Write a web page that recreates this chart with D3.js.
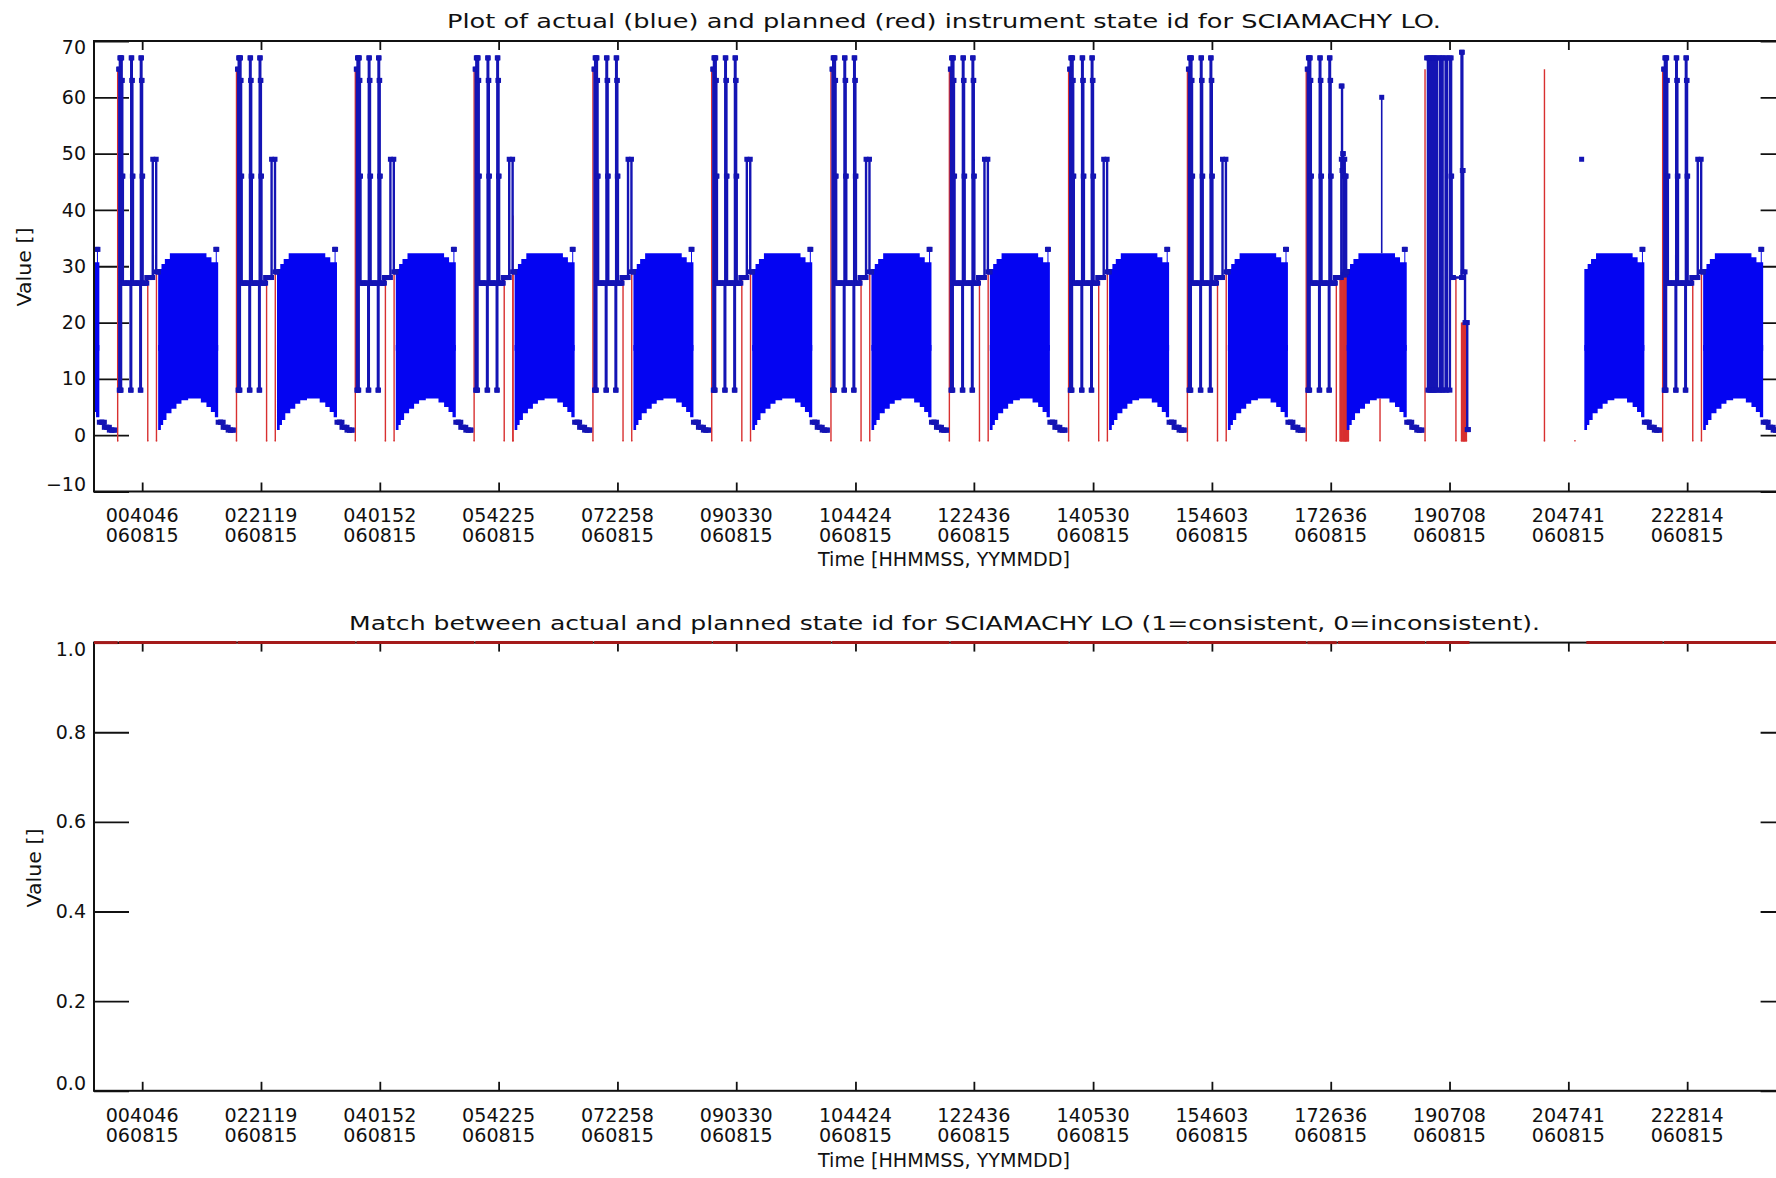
<!DOCTYPE html>
<html><head><meta charset="utf-8">
<script src="https://cdn.jsdelivr.net/npm/d3@7/dist/d3.min.js"></script>
<style>
body{margin:0;background:#fff}
text{font-family:"DejaVu Sans",sans-serif;fill:#111}
</style>
</head><body>
<svg id="c" width="1776" height="1178"></svg>
<script>
// ================= DATA =================
const tickTimeLabels = ["004046","022119","040152","054225","072258","090330","104424","122436","140530","154603","172636","190708","204741","222814"];
const tickDateLabels = ["060815","060815","060815","060815","060815","060815","060815","060815","060815","060815","060815","060815","060815","060815"];
const yTicksTop = [-10, 0, 10, 20, 30, 40, 50, 60, 70];
const yTicksBot = [0.0, 0.2, 0.4, 0.6, 0.8, 1.0];

// orbit reference times (seconds of day 060815)
const fillOrbitStarts    = [-3587, 2446, 8479, 14512, 20545, 26578, 32610, 38664, 44676, 50730, 56763, 62796, 74861, 80894];
const clusterOrbitStarts = [2446, 8479, 14512, 20545, 26578, 32610, 38664, 44676, 50730, 56763, 62796, 80894];

// eclipse / limb cluster of actual state ids (seconds relative to orbit reference, state id)
const clusterRelT = [-1193,-1163,-1132,-1102,-1071,-1041,-1010,-980,-900,-820,-740,-660,-589,-558,-528,-498,-467,-390,-310,-230,-150,-96,-66,-36,-5,25,100,170,234,300,380,460,538,711,812];
const clusterVal  = [65, 8, 67, 8, 67, 63, 46, 27, 27, 27, 27, 27, 8, 67, 63, 46, 27, 27, 27, 27, 27, 8, 67, 63, 46, 27, 27, 27, 28, 28, 28, 28, 49, 29, 29];

// limb/nadir alternation envelope (upper = limb ids, lower = nadir ids)
const fillTopRelT = [812, 980, 1152, 1406, 3264, 3518, 3737, 3787, 3859];
const fillTopVal  = [29.5, 30.4, 31.3, 32.3, 31.6, 30.7, 33, 30.7, 30.7];
const fillBotRelT = [812, 949, 1066, 1234, 1488, 1741, 1995, 2335, 2980, 3264, 3488, 3691, 3859];
const fillBotVal  = [0.9, 1.8, 2.7, 3.9, 4.7, 5.6, 6.2, 6.5, 5.8, 5.0, 4.1, 3.2, 3.2];
const stairRelT = [3859, 3985, 4112, 4240, 4366, 4490, 4620];
const stairVal  = [2.3, 2.3, 1.4, 1.4, 0.9, 0.9, 0.9];

// planned (red) state id drops to -1 at these relative times, rising back to given id
const redDipRelT = [-1244, 284, 726];
const redDipTop  = [65, 28, 29];

// special orbit 172636: extra actual states
const extraA_T = [63329, 63370, 63405, 63436, 63471, 63507, 63542, 63578, 63608];
const extraA_V = [62, 47, 50, 28.5, 46, 28.5, 46, 29, 29];
// special orbit 190708: dense actual states
const blockB_T = [67665, 67731, 67797, 67863, 67929, 67995, 68061, 68127, 68193, 68345, 68411, 68477, 68629, 68695, 68847, 68909, 68935, 69016, 69437, 69478, 69518, 69615, 69727, 69777];
const blockB_V = [67, 8, 67, 8, 67, 8, 67, 8, 67, 8, 67, 8, 67, 8, 67, 46, 28, 28, 68, 47, 29, 20, 1, 1];
// single actual spikes [time, from id, to id]
const blueSpikes = [[65385, 32.3, 60]];
// isolated actual points
const blueDots = [[75536, 49]];
// extra planned verticals [time, from, to]
const redExtra = [
  [21271, -1, 39],
  [63268,-1,28.4],[63304,-1,28.4],[63339,-1,28.4],[63375,-1,28.4],[63410,-1,28.4],[63446,-1,28.4],[63481,-1,28.4],
  [63517,-1,28.4],[63552,-1,28.4],[63588,-1,28.4],[63624,-1,28.4],[63659,-1,28.4],[63695,-1,28.4],
  [65299, -1, 6.5],
  [67584, -1, 65], [69153, -1, 28],
  [69437,-1,20],[69473,-1,20],[69508,-1,20],[69544,-1,20],[69579,-1,20],[69615,-1,20],[69650,-1,20],[69686,-1,20],
  [73648, -1, 65]
];
const redFeetOnly = [75196];

// match (1 = consistent) segments [start, end] in seconds
const matchSegments = [[0,1202],[1262,7235],[7295,13268],[13328,19301],[19361,25334],[25394,31366],[31426,37420],[37480,43432],[43492,49486],[49546,55519],[55579,61552],[61612,63101],[63161,67584],[67644,69843],[75775,79650],[79710,86400]];
const matchValue = 1;

// ================= DRAW =================
const svg = d3.select("#c");
svg.append("rect").attr("width",1776).attr("height",1178).attr("fill","#fff");
const xL = 94, xR = 1795.6;
const x = d3.scaleLinear().domain([0, 86400]).range([xL, xR]);
const yT = d3.scaleLinear().domain([-10, 70]).range([491.5, 41]);
const yB = d3.scaleLinear().domain([0, 1]).range([1090.8, 642.6]);
const tickTimes = tickTimeLabels.map(s => (+s.slice(0,2))*3600 + (+s.slice(2,4))*60 + (+s.slice(4,6)));

const BLUE_FILL = "#0404f2", BLUE_LINE = "#1414b4", RED = "#d83030";

svg.append("defs").append("clipPath").attr("id","clipT")
  .append("rect").attr("x",xL).attr("y",30).attr("width",xR-xL).attr("height",470);

function axes(yScale, top, bottom, yTicks, fmt) {
  const gx1 = svg.append("g").attr("transform",`translate(0,${bottom})`)
    .call(d3.axisBottom(x).tickValues(tickTimes).tickSize(-9).tickFormat(""));
  const gx2 = svg.append("g").attr("transform",`translate(0,${top})`)
    .call(d3.axisTop(x).tickValues(tickTimes).tickSize(-9).tickFormat(""));
  const gy1 = svg.append("g").attr("transform",`translate(${xL},0)`)
    .call(d3.axisLeft(yScale).tickValues(yTicks).tickSize(-35).tickPadding(8).tickFormat(fmt));
  const gy2 = svg.append("g").attr("transform",`translate(${xR},0)`)
    .call(d3.axisRight(yScale).tickValues(yTicks).tickSize(-35).tickFormat(""));
  [gx1,gx2,gy1,gy2].forEach(g => {
    g.select(".domain").remove();
    g.selectAll(".tick line").attr("stroke","#111").attr("stroke-width",1.8);
  });
  const last = yTicks.length - 1;
  gy1.selectAll("text").style("font-size","19px").attr("fill","#111")
     .style("font-family","DejaVu Sans")
     .attr("dy", (d,i) => i === 0 ? "-0.05em" : (i === last ? "0.68em" : "0.32em"));
  return gy1;
}

// ---------- top panel ----------
axes(yT, 41, 491.5, yTicksTop, d => d < 0 ? "\u2212" + Math.abs(d) : String(d));

const plotT = svg.append("g").attr("clip-path","url(#clipT)");

// planned (red) drops
const redV = [];
clusterOrbitStarts.forEach(s => redDipRelT.forEach((r,j) => redV.push([s + r, -1, redDipTop[j]])));
redExtra.forEach(d => redV.push(d));
plotT.selectAll("line.rv").data(redV).join("line").attr("class","rv")
  .attr("x1", d => x(d[0])).attr("x2", d => x(d[0]))
  .attr("y1", d => yT(d[1])).attr("y2", d => yT(d[2]))
  .attr("stroke", RED).attr("stroke-width", 1.4);
const feet = redV.filter(d => d[1] === -1).map(d => d[0]).concat(redFeetOnly);
plotT.selectAll("line.rf").data(feet).join("line").attr("class","rf")
  .attr("x1", d => x(d - 35)).attr("x2", d => x(d + 35))
  .attr("y1", yT(-1)).attr("y2", yT(-1))
  .attr("stroke", RED).attr("stroke-width", 1.6);

// actual (blue) envelope fills
const areaTop = d3.area().curve(d3.curveStepAfter).x(d => x(d[0])).y0(yT(15)).y1(d => yT(d[1]));
const areaBot = d3.area().curve(d3.curveStepAfter).x(d => x(d[0])).y0(d => yT(d[1])).y1(yT(16));
fillOrbitStarts.forEach(s => {
  plotT.append("path").attr("d", areaTop(fillTopRelT.map((r,i) => [s + r, fillTopVal[i]]))).attr("fill", BLUE_FILL);
  plotT.append("path").attr("d", areaBot(fillBotRelT.map((r,i) => [s + r, fillBotVal[i]]))).attr("fill", BLUE_FILL);
});

// actual (blue) step lines
const segs = [];
clusterOrbitStarts.forEach(s => segs.push(clusterRelT.map((r,i) => [s + r, clusterVal[i]])));
fillOrbitStarts.forEach(s => segs.push(stairRelT.map((r,i) => [s + r, stairVal[i]])));
segs.push(extraA_T.map((t,i) => [t, extraA_V[i]]));
segs.push(blockB_T.map((t,i) => [t, blockB_V[i]]));
const stepLine = d3.line().curve(d3.curveStepAfter).x(d => x(d[0])).y(d => yT(d[1]));
segs.forEach(seg => plotT.append("path").attr("d", stepLine(seg))
  .attr("fill","none").attr("stroke", BLUE_LINE).attr("stroke-width", 2.4));
blueSpikes.forEach(d => plotT.append("line")
  .attr("x1", x(d[0])).attr("x2", x(d[0])).attr("y1", yT(d[1])).attr("y2", yT(d[2]))
  .attr("stroke", BLUE_LINE).attr("stroke-width", 1.6));

// markers
const marks = [];
segs.forEach(seg => seg.forEach((p,i) => {
  marks.push(p);
  if (i < seg.length - 1) marks.push([seg[i+1][0], p[1]]);
}));
fillOrbitStarts.forEach(s => { marks.push([s + fillTopRelT[6], 33]); marks.push([s + fillTopRelT[7], 33]); });
blueSpikes.forEach(d => marks.push([d[0], d[2]]));
blueDots.forEach(d => marks.push(d));
plotT.selectAll("rect.mk").data(marks).join("rect").attr("class","mk")
  .attr("x", d => x(d[0]) - 2.5).attr("y", d => yT(d[1]) - 2.5)
  .attr("width", 5).attr("height", 5).attr("fill", BLUE_LINE);

// frame
svg.append("rect").attr("x", xL).attr("y", 41).attr("width", xR - xL).attr("height", 491.5 - 41)
  .attr("fill","none").attr("stroke","#111").attr("stroke-width",2);

// titles & labels top
svg.append("text").attr("x", 944).attr("y", 28).attr("text-anchor","middle")
  .attr("textLength", 994).attr("lengthAdjust","spacingAndGlyphs").style("font-size","20px")
  .text("Plot of actual (blue) and planned (red) instrument state id for SCIAMACHY LO.");
function xLabels(y1, y2, yTitle) {
  svg.selectAll(null).data(tickTimes).join("text")
    .attr("x", d => x(d)).attr("y", y1).attr("text-anchor","middle").style("font-size","19px")
    .attr("textLength", 73).attr("lengthAdjust","spacingAndGlyphs")
    .text((d,i) => tickTimeLabels[i]);
  svg.selectAll(null).data(tickTimes).join("text")
    .attr("x", d => x(d)).attr("y", y2).attr("text-anchor","middle").style("font-size","19px")
    .attr("textLength", 73).attr("lengthAdjust","spacingAndGlyphs")
    .text((d,i) => tickDateLabels[i]);
  svg.append("text").attr("x", 944).attr("y", yTitle).attr("text-anchor","middle")
    .attr("textLength", 252).attr("lengthAdjust","spacingAndGlyphs").style("font-size","19px")
    .text("Time [HHMMSS, YYMMDD]");
}
xLabels(521.5, 541.5, 566);
svg.append("text").attr("transform","translate(31,267) rotate(-90)").attr("text-anchor","middle")
  .attr("textLength", 79).attr("lengthAdjust","spacingAndGlyphs").style("font-size","19px").text("Value []");

// ---------- bottom panel ----------
axes(yB, 642.6, 1090.8, yTicksBot, d3.format(".1f"));
svg.append("rect").attr("x", xL).attr("y", 642.6).attr("width", xR - xL).attr("height", 1090.8 - 642.6)
  .attr("fill","none").attr("stroke","#111").attr("stroke-width",2);
svg.selectAll("line.match").data(matchSegments).join("line").attr("class","match")
  .attr("x1", d => x(d[0])).attr("x2", d => Math.min(x(d[1]), xR))
  .attr("y1", yB(matchValue)).attr("y2", yB(matchValue))
  .attr("stroke", "#a41a1a").attr("stroke-width", 3);
svg.append("text").attr("x", 944.5).attr("y", 630).attr("text-anchor","middle")
  .attr("textLength", 1191).attr("lengthAdjust","spacingAndGlyphs").style("font-size","20px")
  .text("Match between actual and planned state id for SCIAMACHY LO (1=consistent, 0=inconsistent).");
xLabels(1122, 1141.5, 1167);
svg.append("text").attr("transform","translate(41,868) rotate(-90)").attr("text-anchor","middle")
  .attr("textLength", 79).attr("lengthAdjust","spacingAndGlyphs").style("font-size","19px").text("Value []");
</script>
</body></html>
